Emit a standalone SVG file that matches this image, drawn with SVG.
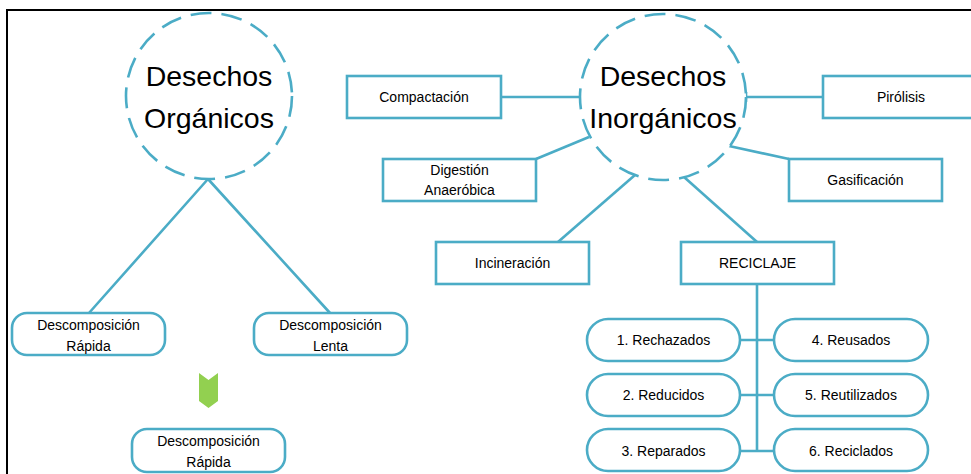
<svg xmlns="http://www.w3.org/2000/svg" width="971" height="474" viewBox="0 0 971 474">
<style>
.ln{stroke:#4BACC6;stroke-width:2.6;fill:none}
.box{fill:#fff;stroke:#4BACC6;stroke-width:2.6}
.circ{fill:#fff;stroke:#4BACC6;stroke-width:2.6;stroke-dasharray:21 10}
.big{font-family:"Liberation Sans",Arial,sans-serif;font-size:28.5px;fill:#000;text-anchor:middle}
.sm{font-family:"Liberation Sans",Arial,sans-serif;font-size:14px;fill:#000;text-anchor:middle}
</style>
<rect width="971" height="474" fill="#fff"/>
<path d="M7 475 V10 H972" fill="none" stroke="#000" stroke-width="2"/>
<g id="connectors">
<path class="ln" d="M208 179 L89 313 M208 179 L330 313"/>
<path class="ln" d="M501 97 H580"/>
<path class="ln" d="M536 159 L589 137"/>
<path class="ln" d="M635 175 L558 242"/>
<path class="ln" d="M684 177 L757 242"/>
<path class="ln" d="M746 97 H823 M746 92 V102"/>
<path class="ln" d="M729 146 L789 159"/>
<path class="ln" d="M757 284 V451 M740 340 H774 M740 395 H774 M740 451 H774"/>
</g>
<g id="organicos">
<circle class="circ" cx="209" cy="96" r="83"/>
<text class="big" x="209" y="86">Desechos</text>
<text class="big" x="209" y="128">Orgánicos</text>
</g>
<g id="inorganicos">
<circle class="circ" cx="663" cy="97" r="83"/>
<text class="big" x="663" y="86">Desechos</text>
<text class="big" x="663" y="128">Inorgánicos</text>
</g>
<g id="desc-rapida">
<rect class="box" x="12" y="313" width="153" height="42" rx="15"/>
<text class="sm" x="88.5" y="330">Descomposición</text>
<text class="sm" x="88.5" y="351">Rápida</text>
</g>
<g id="desc-lenta">
<rect class="box" x="254" y="313" width="153" height="42" rx="15"/>
<text class="sm" x="330.5" y="330">Descomposición</text>
<text class="sm" x="330.5" y="351">Lenta</text>
</g>
<g id="chevron">
<polygon points="199,373 208.5,380 218,373 218,401 208.5,408 199,401" fill="#92D050"/>
</g>
<g id="desc-rapida-2">
<rect class="box" x="132" y="429" width="153" height="43" rx="15"/>
<text class="sm" x="208.5" y="446">Descomposición</text>
<text class="sm" x="208.5" y="467">Rápida</text>
</g>
<g id="compactacion">
<rect class="box" x="347" y="76" width="154" height="42"/>
<text class="sm" x="424" y="102">Compactación</text>
</g>
<g id="digestion">
<rect class="box" x="383" y="159" width="153" height="42"/>
<text class="sm" x="459.5" y="175">Digestión</text>
<text class="sm" x="459.5" y="195">Anaeróbica</text>
</g>
<g id="incineracion">
<rect class="box" x="436" y="242" width="153" height="42"/>
<text class="sm" x="512.5" y="268">Incineración</text>
</g>
<g id="reciclaje">
<rect class="box" x="681" y="242" width="153" height="42"/>
<text class="sm" x="757.5" y="268">RECICLAJE</text>
</g>
<g id="pirolisis">
<rect class="box" x="823" y="76" width="156" height="42"/>
<text class="sm" x="901" y="102">Pirólisis</text>
</g>
<g id="gasificacion">
<rect class="box" x="789" y="159" width="153" height="42"/>
<text class="sm" x="865.5" y="185">Gasificación</text>
</g>
<g id="r1"><rect class="box" x="587" y="319" width="153" height="42" rx="21"/><text class="sm" x="663.5" y="345">1. Rechazados</text></g>
<g id="r2"><rect class="box" x="587" y="374" width="153" height="42" rx="21"/><text class="sm" x="663.5" y="400">2. Reducidos</text></g>
<g id="r3"><rect class="box" x="587" y="429" width="153" height="42" rx="21"/><text class="sm" x="663.5" y="456">3. Reparados</text></g>
<g id="r4"><rect class="box" x="774" y="319" width="154" height="42" rx="21"/><text class="sm" x="851" y="345">4. Reusados</text></g>
<g id="r5"><rect class="box" x="774" y="374" width="154" height="42" rx="21"/><text class="sm" x="851" y="400">5. Reutilizados</text></g>
<g id="r6"><rect class="box" x="774" y="429" width="154" height="42" rx="21"/><text class="sm" x="851" y="456">6. Reciclados</text></g>
</svg>
